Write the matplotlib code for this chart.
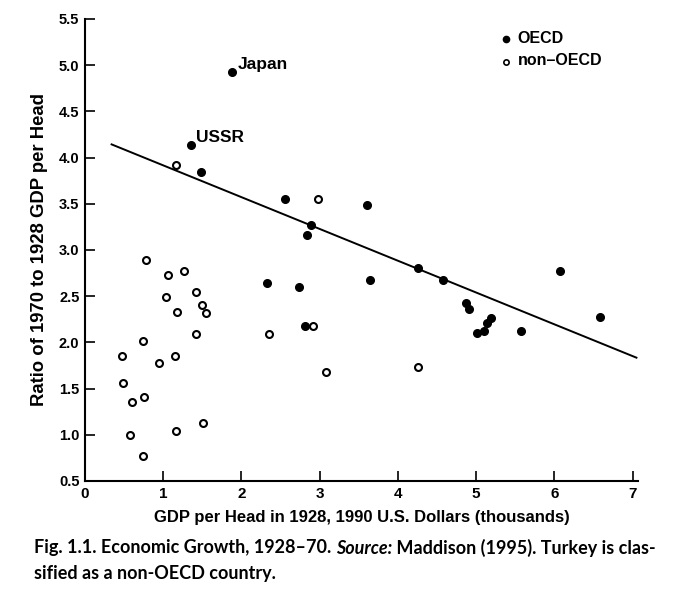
import matplotlib.pyplot as plt
import numpy as np

# GDP per head 1928 (thousands, 1990 US$) and ratio 1970/1928
oecd_x = [1.88, 1.35, 1.48, 2.56, 3.60, 2.89, 2.84, 2.33, 2.74, 3.64, 4.26,
          4.58, 6.07, 4.87, 4.91, 5.19, 5.14, 5.01, 5.10, 5.58, 6.58, 2.81]
oecd_y = [4.93, 4.14, 3.84, 3.55, 3.49, 3.27, 3.16, 2.64, 2.60, 2.67, 2.80,
          2.67, 2.77, 2.43, 2.36, 2.26, 2.21, 2.10, 2.12, 2.12, 2.28, 2.18]

non_x = [1.16, 2.98, 0.78, 1.06, 1.26, 1.42, 1.03, 1.50, 1.55, 1.17, 1.42, 2.35,
         2.92, 0.745, 0.47, 1.15, 0.94, 3.08, 0.485, 0.60, 0.75, 1.51, 1.16,
         0.58, 0.74, 4.26]
non_y = [3.92, 3.55, 2.89, 2.73, 2.77, 2.55, 2.49, 2.40, 2.32, 2.33, 2.09, 2.09,
         2.18, 2.01, 1.85, 1.85, 1.78, 1.68, 1.56, 1.35, 1.41, 1.13, 1.04,
         1.00, 0.77, 1.73]

# fitted line
fit_intercept = 4.26
fit_slope = -0.344
fit_range = [0.34, 7.05]

labels = {"Japan": (1.88, 4.93), "USSR": (1.35, 4.14)}

xticks = [0, 1, 2, 3, 4, 5, 6, 7]
yticks = [0.5, 1.0, 1.5, 2.0, 2.5, 3.0, 3.5, 4.0, 4.5, 5.0, 5.5]

plt.rcParams['font.family'] = ['Liberation Sans', 'DejaVu Sans']

fig = plt.figure(figsize=(6.82, 5.96), dpi=100)
ax = fig.add_axes([85/682, 115/596, 553/682, 462/596])

ax.plot(oecd_x, oecd_y, 'o', color='black', ms=5.5, zorder=3)
ax.plot(non_x, non_y, 'o', mfc='white', mec='black', ms=5, mew=1.5, zorder=3)

fx = np.array(fit_range)
ax.plot(fx, fit_intercept + fit_slope * fx, color='black', lw=1.4, zorder=2)

for name, (x, y) in labels.items():
    ax.text(x + 0.07, y + 0.08, name, fontsize=12.5, fontweight='bold',
            va='center', ha='left')

# legend drawn by hand like the original
ax.plot([5.38], [5.28], 'o', color='black', ms=4.5, clip_on=False)
ax.plot([5.38], [5.03], 'o', mfc='white', mec='black', ms=3.8, mew=1.2, clip_on=False)
ax.text(5.53, 5.29, "OECD", fontsize=11.5, fontweight='bold', va='center')
ax.text(5.53, 5.05, "non\u2013OECD", fontsize=11.5, fontweight='bold', va='center')

ax.set_xlim(0, 7.07)
ax.set_ylim(0.5, 5.5)
ax.set_xticks(xticks)
ax.set_yticks(yticks)
ax.set_xticklabels([str(t) for t in xticks], fontsize=11, fontweight='bold')
ax.set_yticklabels(["%.1f" % t for t in yticks], fontsize=10.5, fontweight='bold')
ax.tick_params(direction='in', length=7, width=1.2, pad=4)
ax.spines['top'].set_visible(False)
ax.spines['right'].set_visible(False)
ax.spines['left'].set_linewidth(1.5)
ax.spines['bottom'].set_linewidth(1.5)

ax.set_xlabel("GDP per Head in 1928, 1990 U.S. Dollars (thousands)",
              fontsize=12, fontweight='bold', labelpad=7)
ax.set_ylabel("Ratio of 1970 to 1928 GDP per Head",
              fontsize=13.3, fontweight='bold', labelpad=8)

# caption, first line in pieces for the italic word
cap_font = ['Lato', 'DejaVu Sans']
cap_size = 13
fig.canvas.draw()
r = fig.canvas.get_renderer()
y1 = 1 - 548/596
x = 34/682
for piece, style in [("Fig. 1.1. Economic Growth, 1928\u201370. ", 'normal'),
                     ("Source:", 'italic'),
                     (" Maddison (1995). Turkey is clas-", 'normal')]:
    t = fig.text(x, y1, piece, fontsize=cap_size, family=cap_font,
                 fontweight='bold', style=style, va='center')
    x = t.get_window_extent(r).x1 / fig.bbox.width
fig.text(34/682, 1 - 573/596, "sified as a non-OECD country.",
         fontsize=cap_size, family=cap_font, fontweight='bold', va='center')

fig.savefig("out.png", dpi=100)
